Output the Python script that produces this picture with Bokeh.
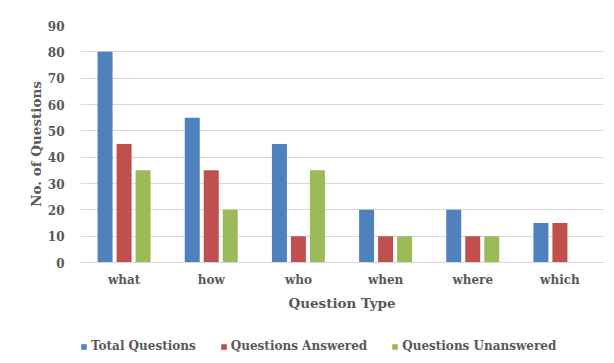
from bokeh.plotting import figure
from bokeh.models import ColumnDataSource, Range1d, Legend, LegendItem
from bokeh.layouts import column
from bokeh.transform import dodge
from bokeh.embed import file_html
from bokeh.resources import INLINE

categories = ["what", "how", "who", "when", "where", "which"]
total_questions = [80, 55, 45, 20, 20, 15]
questions_answered = [45, 35, 10, 10, 10, 15]
questions_unanswered = [35, 20, 35, 10, 10, 0]
y_ticks = [0, 10, 20, 30, 40, 50, 60, 70, 80, 90]
series_names = ["Total Questions", "Questions Answered", "Questions Unanswered"]
series_colors = ["#4F81BD", "#C0504D", "#9BBB59"]

src = ColumnDataSource(dict(cat=categories, total=total_questions,
                            answered=questions_answered, unanswered=questions_unanswered))

FONT = "DejaVu Serif"
GRAY = "#595959"

p = figure(x_range=categories, y_range=Range1d(0, 90),
           width=614, height=320,
           min_border_left=80, min_border_right=11, min_border_top=25, min_border_bottom=58,
           output_backend="svg", toolbar_location=None)
p.outline_line_color = None
p.background_fill_color = "white"
p.border_fill_color = "white"

bw = 0.172
off = 0.218
for field, dx, color in zip(["total", "answered", "unanswered"], [-off, 0, off], series_colors):
    p.vbar(x=dodge("cat", dx, range=p.x_range), top=field, width=bw, source=src,
           fill_color=color, line_color=None)

p.xgrid.grid_line_color = None
p.ygrid.grid_line_color = "#d9d9d9"
p.ygrid.grid_line_width = 1
p.yaxis.ticker = y_ticks
p.yaxis.axis_line_color = None
p.yaxis.major_tick_line_color = None
p.yaxis.minor_tick_line_color = None
p.yaxis.major_label_standoff = 10
p.xaxis.axis_line_color = "#d9d9d9"
p.xaxis.major_tick_line_color = None
p.xaxis.minor_tick_line_color = None
p.xaxis.major_label_standoff = 4

for ax in (p.xaxis, p.yaxis):
    ax.major_label_text_font = FONT
    ax.major_label_text_font_style = "bold"
    ax.major_label_text_font_size = "12px"
    ax.major_label_text_color = GRAY
    ax.axis_label_text_font = FONT
    ax.axis_label_text_font_style = "bold"
    ax.axis_label_text_font_size = "13.5px"
    ax.axis_label_text_color = GRAY

p.xaxis.axis_label = "Question Type"
p.yaxis.axis_label = "No. of Questions"
p.xaxis.axis_label_standoff = 5
p.yaxis.axis_label_standoff = 1

# legend strip
lg = figure(width=614, height=43, x_range=Range1d(0, 1), y_range=Range1d(0, 1),
            x_axis_type=None, y_axis_type=None,
            min_border_left=80, min_border_right=11, min_border_top=0, min_border_bottom=0,
            output_backend="svg", toolbar_location=None)
lg.outline_line_color = None
lg.border_fill_color = "white"
lg.background_fill_color = "white"
items = []
for name, color in zip(series_names, series_colors):
    r = lg.vbar(x=[0.5], top=[0], width=0.1, fill_color=color, line_color=None)
    items.append(LegendItem(label=name, renderers=[r]))

legend = Legend(items=items, orientation="horizontal", location=(0, 10))
legend.label_text_font = FONT
legend.label_text_font_style = "bold"
legend.label_text_font_size = "12px"
legend.label_text_color = GRAY
legend.glyph_width = 7
legend.glyph_height = 7
legend.label_standoff = 4
legend.spacing = 24
legend.border_line_color = None
legend.background_fill_alpha = 0
legend.margin = 0
legend.padding = 0
lg.add_layout(legend, "center")

layout = column(p, lg, spacing=0)
open("out.html", "w").write(file_html(layout, INLINE))
